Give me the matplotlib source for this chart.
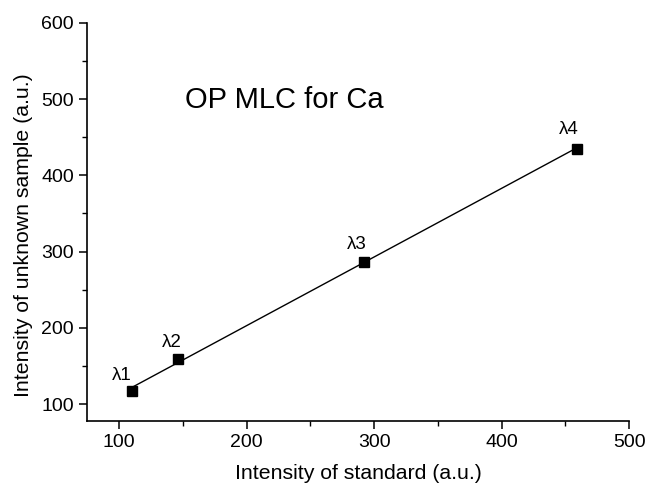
import numpy as np
import matplotlib
matplotlib.use("Agg")
import matplotlib.pyplot as plt
from matplotlib.ticker import MultipleLocator

plt.rcParams['font.family'] = ['Liberation Sans', 'DejaVu Sans']

labels = ["λ1", "λ2", "λ3", "λ4"]
x_std = [110, 146, 292, 459]
y_unk = [117, 159, 287, 435]
label_offsets = [(-7, 11), (-4, 12), (-5, 12), (-6, 14)]

fig = plt.figure(figsize=(6.46, 4.86), dpi=100)
ax = fig.add_axes([0.135, 0.134, 0.839, 0.819])

coef = np.polyfit(x_std, y_unk, 1)
xl = np.array([min(x_std), max(x_std)])
ax.plot(xl, np.polyval(coef, xl), color='black', lw=1.0, zorder=2)
ax.plot(x_std, y_unk, 's', color='black', markersize=7, zorder=3)

for lab, xv, yv, off in zip(labels, x_std, y_unk, label_offsets):
    ax.annotate(lab, (xv, yv), xytext=off, textcoords='offset points',
                ha='center', va='center', fontsize=13.5)

ax.text(0.18, 0.807, "OP MLC for Ca", transform=ax.transAxes, fontsize=21,
        ha='left', va='center')

ax.set_xlim(75, 500)
ax.set_ylim(78, 600)
ax.xaxis.set_major_locator(MultipleLocator(100))
ax.xaxis.set_minor_locator(MultipleLocator(50))
ax.yaxis.set_major_locator(MultipleLocator(100))
ax.yaxis.set_minor_locator(MultipleLocator(50))
for s in ['top', 'right']:
    ax.spines[s].set_visible(False)
for s in ['left', 'bottom']:
    ax.spines[s].set_linewidth(1.2)
ax.tick_params(which='major', direction='out', length=6, width=1.1, labelsize=14)
ax.tick_params(which='minor', direction='out', length=3.5, width=1.0)

ax.set_xlabel("Intensity of standard (a.u.)", fontsize=15.3)
ax.set_ylabel("Intensity of unknown sample (a.u.)", fontsize=15.3)
ax.xaxis.set_label_coords(0.5, -0.108)
ax.yaxis.set_label_coords(-0.100, 0.467)

fig.savefig("out.png", dpi=100)
